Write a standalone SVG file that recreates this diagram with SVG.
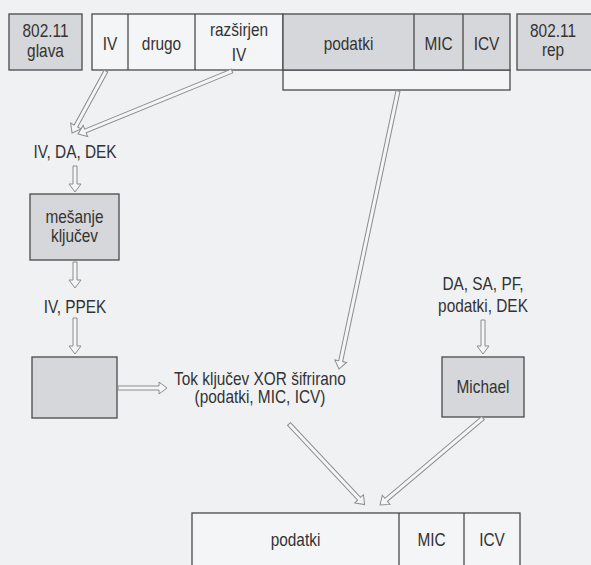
<svg xmlns="http://www.w3.org/2000/svg" width="591" height="565" viewBox="0 0 591 565">
<style>
.bg{fill:#f0f1f3}
.g{fill:#d6d7da;stroke:#4a4a4a;stroke-width:1.3}
.w{fill:#f4f5f6;stroke:#4a4a4a;stroke-width:1.3}
.ln{stroke:#4a4a4a;stroke-width:1.3;fill:none}
.t{font-family:"Liberation Sans",Arial,sans-serif;font-size:17.5px;fill:#333;text-anchor:middle}
.ar{fill:#f4f5f6;stroke:#8c8c8c;stroke-width:1}
</style>
<rect class="bg" x="0" y="0" width="591" height="565"/>
<g id="glava"><rect class="g" x="9" y="14" width="73" height="56"/><text class="t" transform="translate(45.5,37) scale(0.88,1)">802.11</text><text class="t" transform="translate(45.5,57) scale(0.88,1)">glava</text></g>
<g id="frame">
<rect class="w" x="283" y="70" width="227" height="20"/>
<rect class="w" x="92" y="14" width="191" height="56"/>
<line class="ln" x1="128" y1="14" x2="128" y2="70"/>
<line class="ln" x1="195" y1="14" x2="195" y2="70"/>
<text class="t" transform="translate(110,50) scale(0.88,1)">IV</text>
<text class="t" transform="translate(161.5,50) scale(0.88,1)">drugo</text>
<text class="t" transform="translate(239,36) scale(0.88,1)">razširjen</text><text class="t" transform="translate(239,61) scale(0.88,1)">IV</text>
<rect class="g" x="283" y="14" width="227" height="56"/>
<line class="ln" x1="414" y1="14" x2="414" y2="70"/>
<line class="ln" x1="463" y1="14" x2="463" y2="70"/>
<text class="t" transform="translate(348.5,50) scale(0.88,1)">podatki</text>
<text class="t" transform="translate(438.5,50) scale(0.88,1)">MIC</text>
<text class="t" transform="translate(486.5,50) scale(0.88,1)">ICV</text>
</g>
<g id="rep"><rect class="g" x="517" y="14" width="80" height="56"/><text class="t" transform="translate(553,37) scale(0.88,1)">802.11</text><text class="t" transform="translate(553,56) scale(0.88,1)">rep</text></g>
<g id="lbl1"><text class="t" transform="translate(75,158) scale(0.88,1)">IV, DA, DEK</text></g>
<g id="mesanje"><rect class="g" x="30" y="194" width="89" height="66"/><text class="t" transform="translate(74.5,223) scale(0.88,1)">mešanje</text><text class="t" transform="translate(74.5,242) scale(0.88,1)">ključev</text></g>
<g id="lbl2"><text class="t" transform="translate(75,313) scale(0.88,1)">IV, PPEK</text></g>
<g id="rc4"><rect class="g" x="32" y="357" width="85" height="61"/></g>
<g id="tok"><text class="t" transform="translate(260,385) scale(0.88,1)">Tok ključev XOR šifrirano</text><text class="t" transform="translate(260,403) scale(0.88,1)">(podatki, MIC, ICV)</text></g>
<g id="lbl3"><text class="t" transform="translate(483,290) scale(0.88,1)">DA, SA, PF,</text><text class="t" transform="translate(483,312) scale(0.88,1)">podatki, DEK</text></g>
<g id="michael"><rect class="g" x="442" y="357" width="82" height="60"/><text class="t" transform="translate(483,393) scale(0.88,1)">Michael</text></g>
<g id="out">
<rect class="w" x="192" y="513" width="328" height="60"/>
<line class="ln" x1="399" y1="513" x2="399" y2="565"/>
<line class="ln" x1="464" y1="513" x2="464" y2="565"/>
<text class="t" transform="translate(295.5,546) scale(0.88,1)">podatki</text>
<text class="t" transform="translate(431.5,546) scale(0.88,1)">MIC</text>
<text class="t" transform="translate(492,546) scale(0.88,1)">ICV</text>
</g>
<g id="connectors">
<path class="ar" transform="translate(106,71) rotate(118.7)" d="M0,-2H62.7V-6L70.7,0L62.7,6V2H0Z"/>
<path class="ar" transform="translate(232,71) rotate(157.75)" d="M0,-2H158.4V-6L166.4,0L158.4,6V2H0Z"/>
<path class="ar" transform="translate(75,166) rotate(90)" d="M0,-2H18V-6L26,0L18,6V2H0Z"/>
<path class="ar" transform="translate(75,262) rotate(90)" d="M0,-2H18V-6L26,0L18,6V2H0Z"/>
<path class="ar" transform="translate(75,318) rotate(90)" d="M0,-2H28V-6L36,0L28,6V2H0Z"/>
<path class="ar" transform="translate(118,388)" d="M0,-2H41V-6L49,0L41,6V2H0Z"/>
<path class="ar" transform="translate(398,91) rotate(101.98)" d="M0,-2H276.2V-6L284.2,0L276.2,6V2H0Z"/>
<path class="ar" transform="translate(483,320) rotate(90)" d="M0,-2H26V-6L34,0L26,6V2H0Z"/>
<path class="ar" transform="translate(289,424) rotate(46.85)" d="M0,-2H102.5V-6L110.5,0L102.5,6V2H0Z"/>
<path class="ar" transform="translate(483,418) rotate(139.8)" d="M0,-2H126.8V-6L134.8,0L126.8,6V2H0Z"/>
</g>
</svg>
